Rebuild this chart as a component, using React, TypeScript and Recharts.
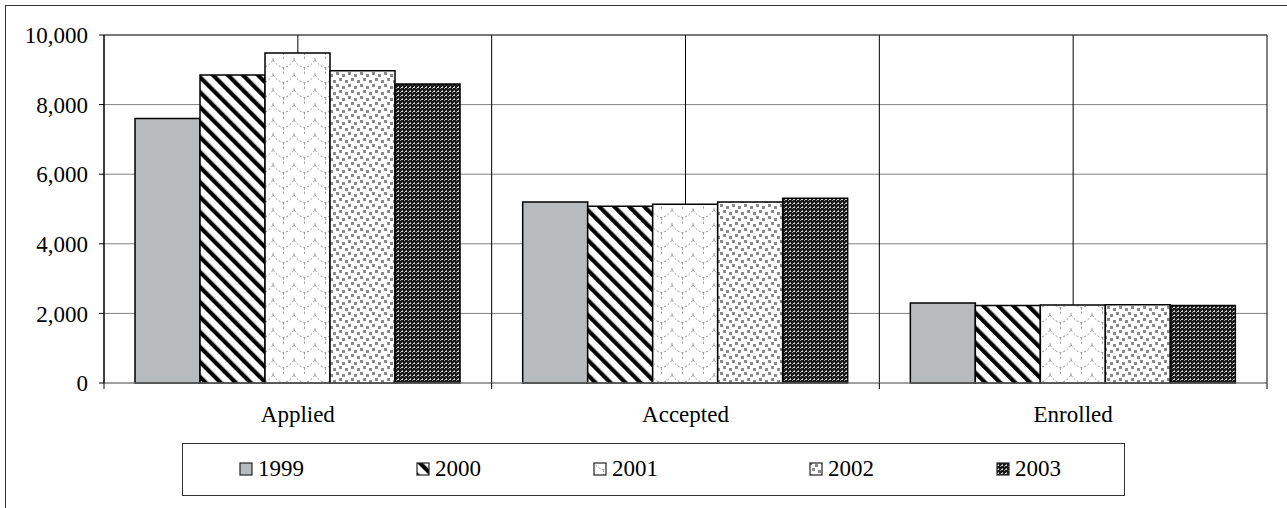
import React from "react";
import { Bar, BarChart, CartesianGrid, ReferenceLine, XAxis, YAxis } from "recharts";

// Admissions funnel, 1999-2003
const categories = ["Applied", "Accepted", "Enrolled"];
const years = ["1999", "2000", "2001", "2002", "2003"];
const values1999 = [7600, 5200, 2300];
const values2000 = [8850, 5080, 2230];
const values2001 = [9480, 5140, 2240];
const values2002 = [8970, 5200, 2250];
const values2003 = [8590, 5310, 2230];
const yTicks = [0, 2000, 4000, 6000, 8000, 10000];

const seriesValues = [values1999, values2000, values2001, values2002, values2003];
const fills = ["#b7bbbe", "url(#stripes)", "url(#scales)", "url(#squares)", "url(#dense)"];

const data = categories.map((name, i) => {
  const row: Record<string, string | number> = { name };
  years.forEach((year, s) => {
    row[year] = seriesValues[s][i];
  });
  return row;
});

const font = "Liberation Serif, DejaVu Serif, serif";
// left edge of each legend entry inside the legend box
const legendSlots = [56, 233, 410, 626, 813];

function Patterns() {
  return (
    <svg width={0} height={0} style={{ position: "absolute" }}>
      <defs>
        <pattern id="stripes" patternUnits="userSpaceOnUse" width={10.6} height={10.6} patternTransform="rotate(-45)">
          <rect width={10.6} height={10.6} fill="#fff" />
          <rect x={0} y={0} width={4.2} height={10.6} fill="#000" />
        </pattern>
        <pattern id="scales" patternUnits="userSpaceOnUse" width={21} height={15}>
          <rect width={21} height={15} fill="#fff" />
          <path
            d="M0,0 Q5,7 10.5,7.5 Q16,7 21,0 M0,15 Q0,9 -5,7.5 M21,15 Q21,9 26,7.5 M10.5,7.5 Q10.5,13 10.5,15"
            fill="none"
            stroke="#8c8c8c"
            strokeWidth={1}
            strokeDasharray="2 2"
          />
        </pattern>
        <pattern id="squares" patternUnits="userSpaceOnUse" width={12} height={12}>
          <rect width={12} height={12} fill="#fff" />
          <rect x={0} y={0} width={3} height={3} fill="#8a8a8a" />
          <rect x={6} y={2} width={3} height={3} fill="#8a8a8a" />
          <rect x={3} y={6} width={3} height={3} fill="#8a8a8a" />
          <rect x={9} y={8} width={3} height={3} fill="#8a8a8a" />
        </pattern>
        <pattern id="dense" patternUnits="userSpaceOnUse" width={4} height={4}>
          <rect width={4} height={4} fill="#1a1a1a" />
          <rect x={0} y={0} width={1} height={1} fill="#9a9a9a" />
          <rect x={2} y={2} width={1} height={1} fill="#9a9a9a" />
          <rect x={1} y={3} width={2} height={1} fill="#d8d8d8" />
        </pattern>
      </defs>
    </svg>
  );
}

function CategoryTick(props: any) {
  const { x, y, width, payload, index, visibleTicksCount } = props;
  const half = width / (categories.length * 2);
  return (
    <g>
      <line x1={x - half} x2={x - half} y1={y} y2={y + 6} stroke="#000" />
      {index === visibleTicksCount - 1 && (
        <line x1={x + half} x2={x + half} y1={y} y2={y + 6} stroke="#000" />
      )}
      <text x={x} y={y + 39} textAnchor="middle" style={{ fontFamily: font, fontSize: 23 }} fill="#000">
        {payload.value}
      </text>
    </g>
  );
}

function LegendBox() {
  return (
    <div
      style={{
        position: "absolute",
        left: 182,
        top: 443,
        width: 941,
        height: 51,
        border: "1.5px solid #333",
        fontFamily: font,
        fontSize: 23,
      }}
    >
      {years.map((year, i) => (
        <div
          key={year}
          style={{ position: "absolute", left: legendSlots[i], top: 12, display: "flex", alignItems: "center" }}
        >
          <svg width={14} height={14} style={{ marginRight: 5 }}>
            <rect x={1} y={1} width={12} height={12} fill={fills[i]} stroke="#222" strokeWidth={1.2} />
          </svg>
          <span style={{ lineHeight: "26px" }}>{year}</span>
        </div>
      ))}
    </div>
  );
}

export default function App() {
  return (
    <div style={{ position: "absolute", left: 0, top: 0, width: 1287, height: 508, overflow: "hidden", background: "#fff", fontFamily: font }}>
      <Patterns />
      <div
        style={{
          position: "absolute",
          left: 5,
          top: 5,
          width: 1300,
          height: 520,
          border: "1.5px solid #333",
        }}
      />
      <div style={{ position: "absolute", left: 0, top: 0 }}>
        <BarChart
          width={1287}
          height={508}
          data={data}
          margin={{ top: 35, right: 20, bottom: 85, left: 0 }}
          barCategoryGap="8%"
          barGap={0}
          style={{ fontFamily: font }}
        >
          <CartesianGrid stroke="#808080" vertical={false} />
          <CartesianGrid
            stroke="#000"
            horizontal={false}
            verticalCoordinatesGenerator={({ offset }: any) =>
              Array.from({ length: categories.length * 2 + 1 }, (_, i) => offset.left + (i * offset.width) / (categories.length * 2))
            }
          />
          <ReferenceLine y={10000} stroke="#333" />
          <XAxis
            dataKey="name"
            height={40}
            tickLine={false}
            tickSize={0}
            tickMargin={0}
            axisLine={{ stroke: "#808080" }}
            tick={<CategoryTick />}
            interval={0}
          />
          <YAxis
            width={104}
            domain={[0, 10000]}
            ticks={yTicks}
            interval={0}
            tickSize={5}
            tickMargin={11}
            tickLine={{ stroke: "#000" }}
            axisLine={{ stroke: "#000" }}
            tickFormatter={(v: number) => v.toLocaleString("en-US")}
            tick={{ fontSize: 23, fill: "#000", style: { fontFamily: font } }}
          />
          {years.map((year, i) => (
            <Bar key={year} dataKey={year} fill={fills[i]} stroke="#000" strokeWidth={1.5} isAnimationActive={false} />
          ))}
        </BarChart>
      </div>
      <LegendBox />
    </div>
  );
}
